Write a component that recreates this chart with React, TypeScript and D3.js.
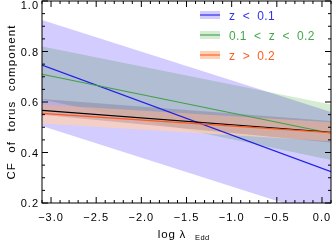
import * as d3 from "d3";

// x range of the fits (log lambda_Edd)
const xEnds = [-3.1, 0.1];

// fitted lines: values at xEnds
const blueLine = [0.746, 0.324];
const greenLine = [0.71, 0.476];
const orangeLine = [0.555, 0.479];
const blackLine = [0.567, 0.48];

// confidence bands: [upper, lower] values at xEnds
const blueUpper = [0.925, 0.56];
const blueLower = [0.505, 0.14];
const greenUpper = [0.82, 0.59];
const greenLower = [0.61, 0.37];
const orangeUpper = [0.59, 0.52];
const orangeLower = [0.515, 0.445];
const blackUpper = [0.612, 0.525];
const blackLower = [0.55, 0.44];

const legendLabels = ["z < 0.1", "0.1 < z < 0.2", "z > 0.2"];
const xMajor = [-3.0, -2.5, -2.0, -1.5, -1.0, -0.5, 0.0];
const yMajor = [0.2, 0.4, 0.6, 0.8, 1.0];

const W = 332;
const H = 241;
const margin = { top: 1, right: 1, bottom: 38, left: 42 };
const font = "'Liberation Sans', Arial, sans-serif";

function App() {
  const x = d3.scaleLinear().domain([-3.1, 0.1]).range([margin.left, W - margin.right]);
  const y = d3.scaleLinear().domain([0.2, 1.0]).range([H - margin.bottom, margin.top]);

  const line = (v: number[]) =>
    d3.line<number>().x((_, i) => x(xEnds[i])).y((d) => y(d))(v) as string;
  const band = (up: number[], lo: number[]) =>
    d3
      .area<number>()
      .x((_, i) => x(xEnds[i]))
      .y0((_, i) => y(lo[i]))
      .y1((_, i) => y(up[i]))([0, 1]) as string;

  const xMinor = d3.range(-31, 2).map((d) => d / 10);
  const yMinor = d3.range(4, 21).map((d) => d / 20);

  const x0 = x.range()[0];
  const x1 = x.range()[1];
  const y0 = y.range()[0];
  const y1 = y.range()[1];

  const legend = [
    { label: legendLabels[0], line: "#2020e8", fill: "#d2ccff", text: "#3030ee" },
    { label: legendLabels[1], line: "#3fa040", fill: "#d6ecd4", text: "#45a848" },
    { label: legendLabels[2], line: "#ff5a1e", fill: "#ffd2b8", text: "#ff5a1e" },
  ];

  return (
    <svg
      width={W}
      height={H}
      style={{ position: "fixed", left: 0, top: 0, background: "#fff" }}
      fontFamily={font}
    >
      <defs>
        <clipPath id="plot">
          <rect x={x0} y={y1} width={x1 - x0} height={y0 - y1} />
        </clipPath>
      </defs>

      <g clipPath="url(#plot)">
        <path d={band(blueUpper, blueLower)} fill="#d2ccff" style={{ mixBlendMode: "multiply" }} />
        <path d={band(greenUpper, greenLower)} fill="#d6ecd2" style={{ mixBlendMode: "multiply" }} />
        <path d={band(orangeUpper, orangeLower)} fill="#ffd0b4" opacity={0.75} />
        <path d={band(blackUpper, blackLower)} fill="#e2d8e0" style={{ mixBlendMode: "multiply" }} />

        <path d={line(blueLine)} stroke="#2020e8" strokeWidth={1.1} fill="none" />
        <path d={line(greenLine)} stroke="#3fa040" strokeWidth={1.1} fill="none" />
        <path d={line(blackLine)} stroke="#000" strokeWidth={1.1} fill="none" />
        <path d={line(orangeLine)} stroke="#ff5a1e" strokeWidth={1.3} fill="none" />
      </g>

      {/* frame */}
      <rect x={x0} y={y1} width={x1 - x0} height={y0 - y1} fill="none" stroke="#000" strokeWidth={1} />

      {/* x ticks */}
      {xMinor.map((t) => {
        const major = xMajor.some((m) => Math.abs(m - t) < 1e-6);
        const len = major ? 6 : 3;
        return (
          <g key={"xt" + t} stroke="#000" strokeWidth={1}>
            <line x1={x(t)} x2={x(t)} y1={y0} y2={y0 - len} />
            <line x1={x(t)} x2={x(t)} y1={y1} y2={y1 + len} />
          </g>
        );
      })}
      {xMajor.map((t) => (
        <text
          key={"xl" + t}
          x={x(t)}
          y={221}
          textAnchor="middle"
          fontSize={11}
          letterSpacing={1}
          fill="#000"
        >
          {t < 0 ? "\u2212" + Math.abs(t).toFixed(1) : t.toFixed(1)}
        </text>
      ))}

      {/* y ticks */}
      {yMinor.map((t) => {
        const major = yMajor.some((m) => Math.abs(m - t) < 1e-6);
        const len = major ? 6 : 3;
        return (
          <g key={"yt" + t} stroke="#000" strokeWidth={1}>
            <line x1={x0} x2={x0 + len} y1={y(t)} y2={y(t)} />
            <line x1={x1} x2={x1 - len} y1={y(t)} y2={y(t)} />
          </g>
        );
      })}
      {yMajor.map((t) => (
        <text
          key={"yl" + t}
          x={39}
          y={Math.max(y(t) + 4, 9)}
          textAnchor="end"
          fontSize={11}
          letterSpacing={1}
          fill="#000"
        >
          {t.toFixed(1)}
        </text>
      ))}

      {/* axis titles */}
      <text x={172} y={238} textAnchor="middle" fontSize={11.5} letterSpacing={0.8} fill="#000">
        log λ
      </text>
      <text x={195} y={240} fontSize={7.5} letterSpacing={0.4} fill="#000">
        Edd
      </text>
      <text
        transform={`translate(15,${(y0 + y1) / 2}) rotate(-90)`}
        textAnchor="middle"
        fontSize={11.5}
        letterSpacing={1.1}
        wordSpacing={5}
        fill="#000"
      >
        CF of torus component
      </text>

      {/* legend */}
      {legend.map((l, i) => {
        const cy = 15 + i * 20;
        return (
          <g key={"lg" + i}>
            <rect x={200} y={cy - 4} width={20} height={8} fill={l.fill} />
            <line x1={200} x2={220} y1={cy} y2={cy} stroke={l.line} strokeWidth={1.1} />
            <text
              x={229}
              y={cy + 4.5}
              fontSize={12}
              letterSpacing={0.4}
              wordSpacing={3.5}
              fill={l.text}
              style={{ whiteSpace: "pre" }}
            >
              {l.label}
            </text>
          </g>
        );
      })}
    </svg>
  );
}

export default App;
